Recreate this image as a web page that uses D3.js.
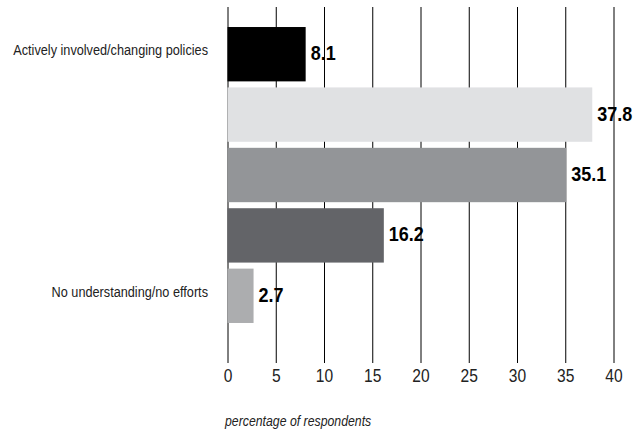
<!DOCTYPE html>
<html>
<head>
<meta charset="utf-8">
<script src="https://cdn.jsdelivr.net/npm/d3@7"></script>
<style>
body { margin: 0; background: #fff; }
svg { display: block; }
.cat { font-family: "Liberation Sans", Arial, sans-serif; font-size: 15.5px; fill: #222; }
.val { font-family: "Liberation Sans", Arial, sans-serif; font-size: 20px; font-weight: bold; fill: #000; }
.tick text { font-family: "Liberation Sans", Arial, sans-serif; font-size: 19px; fill: #222; }
.title { font-family: "Liberation Sans", Arial, sans-serif; font-size: 15px; font-style: italic; fill: #222; }
</style>
</head>
<body>
<script>
var WIDTH = 635, HEIGHT = 431;
var NARROW = 0.82;   // squeeze to look like a condensed face

// data
var categories = ['Actively involved/changing policies', 'b', 'c', 'd', 'No understanding/no efforts'];
var categoryLabels = ['Actively involved/changing policies', '', '', '', 'No understanding/no efforts'];
var values = [8.1, 37.8, 35.1, 16.2, 2.7];
var barColors = ['#000000', '#e0e1e3', '#939598', '#636468', '#acadaf'];
var xTicks = [0, 5, 10, 15, 20, 25, 30, 35, 40];
var axisTitle = 'percentage of respondents';

var data = categories.map(function(c, i){
    return {cat: c, label: categoryLabels[i], value: values[i], color: barColors[i]};
});

var _xScale = d3.scaleLinear()
    .domain([0, 40])
    .range([227.5, 613.5]);

var _yScale = d3.scaleBand()
    .domain(categories)
    .range([24, 326])
    .paddingInner(0.1)
    .paddingOuter(0.05);

var _svg = d3.select('body').append('svg')
    .attr('width', WIDTH)
    .attr('height', HEIGHT);

var GRID_TOP = 7, GRID_BOTTOM = 363;
var mid = function(d){ return _yScale(d.cat) + _yScale.bandwidth()/2; };

// category labels
_svg.append('g').selectAll('g').data(data)
    .enter()
    .append('g')
        .attr('transform', function(d){ return 'translate(208,' + (mid(d) + 1) + ') scale(' + NARROW + ',1)'; })
    .append('text')
        .classed('cat', true)
        .attr('text-anchor', 'end')
        .text(function(d){ return d.label; });

// value labels (sit under the gridlines)
_svg.append('g').selectAll('g').data(data)
    .enter()
    .append('g')
        .attr('transform', function(d){ return 'translate(' + (_xScale(d.value) + 5) + ',' + (mid(d) + 6) + ') scale(0.9,1)'; })
    .append('text')
        .classed('val', true)
        .text(function(d){ return d.value.toFixed(1); });

// axis with full-height gridlines
var axis = d3.axisBottom(_xScale)
    .tickValues(xTicks)
    .tickSizeInner(-(GRID_BOTTOM - GRID_TOP))
    .tickSizeOuter(0)
    .tickPadding(6);

var ag = _svg.append('g')
    .attr('transform', 'translate(0,' + GRID_BOTTOM + ')')
    .call(axis);
ag.select('.domain').remove();
ag.selectAll('.tick line').attr('stroke', '#000').attr('stroke-width', 1);
ag.selectAll('.tick text').attr('transform', 'scale(' + NARROW + ',1)');

// bars
_svg.append('g').selectAll('rect').data(data)
    .enter()
    .append('rect')
        .attr('x', _xScale(0))
        .attr('y', function(d){ return _yScale(d.cat); })
        .attr('width', function(d){ return _xScale(d.value) - _xScale(0); })
        .attr('height', _yScale.bandwidth())
        .attr('fill', function(d){ return d.color; });

_svg.append('g')
    .attr('transform', 'translate(225,426) scale(' + NARROW + ',1)')
  .append('text')
    .classed('title', true)
    .text(axisTitle);
</script>
</body>
</html>
